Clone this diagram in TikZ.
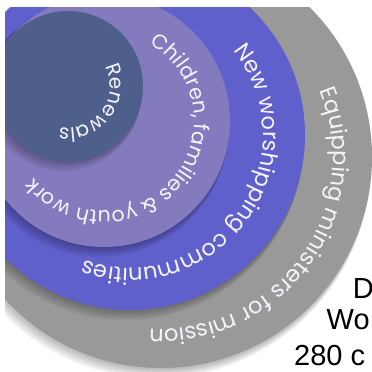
\documentclass[tikz,border=0pt]{standalone}
\usepackage{fontspec}
\setmainfont{Poppins}
\newfontfamily\arialfont{Liberation Sans}
\definecolor{ringgray}{RGB}{153,153,153}
\definecolor{ringblue}{RGB}{96,96,204}
\definecolor{ringlav}{RGB}{132,122,190}
\definecolor{ringdark}{RGB}{78,95,140}
\definecolor{ringtextc}{RGB}{244,244,250}
% measure the characters of a label (outside the picture); #1 prefix, #2 font size, #3 list macro
\newcommand\measurering[3]{%
  \expandafter\xdef\csname fs#1\endcsname{#2}%
  \gdef\arcsum{0}%
  \foreach \c [count=\i] in #3{%
    \setbox0=\hbox{\fontsize{#2}{#2}\selectfont\c}%
    \pgfmathsetmacro\cw{\the\wd0}%
    \expandafter\xdef\csname cw#1\i\endcsname{\cw}%
    \pgfmathsetmacro\tmpw{\arcsum+\cw}%
    \global\let\arcsum\tmpw}%
  \expandafter\xdef\csname tw#1\endcsname{\arcsum}}
% #1 cx, #2 cy, #3 baseline radius, #4 mid angle, #5 name prefix, #6 list macro
\newcommand\arclabel[6]{%
  \edef\fsz{\csname fs#5\endcsname}%
  \pgfmathsetmacro\arcstart{#4+(\csname tw#5\endcsname/2)/(#3)*180/pi}%
  \global\let\arcstartg\arcstart
  \gdef\arcpos{0}%
  \foreach \c [count=\i] in #6{%
    \edef\cw{\csname cw#5\i\endcsname}%
    \pgfmathsetmacro\ang{\arcstartg-(\arcpos+\cw/2)/(#3)*180/pi}%
    \node[ringchar,font=\fontsize{\fsz}{\fsz}\selectfont,rotate=\ang-90] (#5\i)
      at ({#1+#3*cos(\ang)},{#2+#3*sin(\ang)}) {\c};
    \pgfmathsetmacro\tmpw{\arcpos+\cw}%
    \global\let\arcpos\tmpw}%
}
\newcommand\eqlist{E,q,u,i,p,p,i,n,g,~,m,i,n,i,s,t,e,r,s,~,f,o,r,~,m,i,s,s,i,o,n}
\newcommand\nwlist{N,e,w,~,w,o,r,s,h,i,p,p,i,n,g,~,c,o,m,m,u,n,i,t,i,e,s}
\newcommand\chlist{C,h,i,l,d,r,e,n,{,},~,f,a,m,i,l,i,e,s,~,\&,~,y,o,u,t,h,~,w,o,r,k}
\newcommand\rnlist{R,e,n,e,w,a,l,s}
\begin{document}
\measurering{eq}{22.5}{\eqlist}%
\measurering{nw}{22.5}{\nwlist}%
\measurering{ch}{20.6}{\chlist}%
\measurering{rn}{20}{\rnlist}%
\begin{tikzpicture}[x=1pt,y=1pt,
  sidelabel/.style={anchor=base west,inner sep=0pt,font=\arialfont\fontsize{29}{29}\selectfont,text=black},
  ringchar/.style={anchor=base,inner sep=0pt,outer sep=0pt,text=ringtextc},
  shade ring/.style={black,opacity=0.035}]
\useasboundingbox (0,0) rectangle (372,-372);
\fill[white] (0,0) rectangle (372,-372);
\begin{scope}
\clip (5,-7) rectangle (372,-372);
% outer gray ring
\foreach \k in {1,...,8} \fill[shade ring] (161-0.6*\k,-157-0.9*\k) circle (211+0.4*\k);
\fill[ringgray] (161,-157) circle (211);
% blue ring
\foreach \k in {1,...,8} \fill[shade ring] (130-0.6*\k,-135-0.9*\k) circle (175+0.4*\k);
\fill[ringblue] (130,-135) circle (175);
% lavender ring
\foreach \k in {1,...,8} \fill[shade ring] (104-0.6*\k,-121-0.9*\k) circle (126+0.4*\k);
\fill[ringlav] (104,-121) circle (126);
% dark core
\foreach \k in {1,...,8} \fill[shade ring] (68-0.6*\k,-86-0.9*\k) circle (75+0.4*\k);
\fill[ringdark] (68,-86) circle (75);
% labels
\arclabel{161}{-157}{172}{-35.6}{eq}{\eqlist}
\arclabel{130}{-135}{133}{-35.5}{nw}{\nwlist}
\arclabel{104}{-121}{90}{-41}{ch}{\chlist}
\arclabel{68}{-86}{42}{-37}{rn}{\rnlist}
% side text
\node[sidelabel] (tD) at (352.6,-298) {D};
\node[sidelabel] (tWo) at (326.5,-329) {Wo};
\node[sidelabel] (t280) at (294,-365) {280 c};
\end{scope}
\end{tikzpicture}
\end{document}
